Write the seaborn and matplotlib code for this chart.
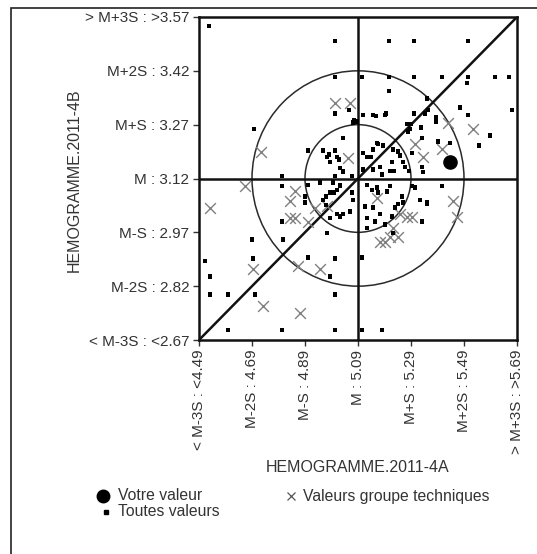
import numpy as np
import pandas as pd
import seaborn as sns
import matplotlib.pyplot as plt
from matplotlib.patches import Ellipse, Rectangle
from matplotlib.lines import Line2D

# moyennes / ecarts-types des deux echantillons
mean_a, sd_a = 5.09, 0.2
mean_b, sd_b = 3.12, 0.15

x_ticks = [4.49, 4.69, 4.89, 5.09, 5.29, 5.49, 5.69]
x_labels = ['< M-3S : <4.49', 'M-2S : 4.69', 'M-S : 4.89', 'M : 5.09',
            'M+S : 5.29', 'M+2S : 5.49', '> M+3S : >5.69']
y_ticks = [2.67, 2.82, 2.97, 3.12, 3.27, 3.42, 3.57]
y_labels = ['< M-3S : <2.67', 'M-2S : 2.82', 'M-S : 2.97', 'M : 3.12',
            'M+S : 3.27', 'M+2S : 3.42', '> M+3S : >3.57']

# toutes valeurs (A, B)
all_a = [4.528, 5.003, 5.003, 5.003, 5.075, 4.698, 5.033, 4.901, 4.973, 5.003,
         4.984, 5.011, 5.033, 4.803, 5.003, 5.067, 5.207, 5.301, 5.505, 5.105,
         5.207, 5.301, 5.407, 5.505, 5.501, 5.607, 5.660, 5.207, 5.350, 5.475,
         5.671, 5.384, 5.384, 5.505, 5.158, 5.196, 5.301, 5.588, 5.547, 5.392,
         5.437, 5.290, 5.328, 5.279, 5.332, 5.165, 5.184, 4.803, 4.803, 4.690,
         4.807, 4.513, 4.694, 4.901, 5.003, 4.984, 4.531, 4.531, 4.599, 4.701,
         5.003, 4.599, 4.803, 5.003, 5.407, 5.350, 5.332, 5.105, 5.105, 5.181,
         5.056, 5.086, 5.071, 4.958, 4.981, 5.018, 5.033, 5.147, 5.192, 5.343,
         5.354, 5.275, 5.286, 5.109, 5.162, 5.147, 5.222, 5.241, 5.249, 5.294,
         5.218, 5.260, 5.109, 5.124, 5.139, 5.173, 5.147, 5.211, 5.226, 5.267,
         5.282, 5.332, 5.335, 5.109, 5.181, 4.947, 4.996, 5.022, 4.901, 4.890,
         4.984, 5.000, 5.011, 5.067, 5.071, 4.958, 4.890, 4.984, 5.011, 5.022,
         5.033, 5.060, 4.973, 5.124, 5.143, 5.162, 5.165, 5.211, 5.199, 5.256,
         5.260, 5.294, 5.305, 5.324, 5.350, 5.116, 5.147, 5.241, 5.230, 5.173,
         5.124, 5.154, 5.218, 5.124, 5.192, 5.222, 4.968, 5.022, 4.969, 5.022]
all_b = [3.544, 3.502, 3.402, 3.301, 3.282, 3.259, 3.232, 3.198, 3.181, 3.198,
         3.165, 3.179, 3.137, 3.126, 3.126, 3.126, 3.502, 3.502, 3.502, 3.402,
         3.402, 3.402, 3.402, 3.402, 3.385, 3.402, 3.402, 3.363, 3.343, 3.318,
         3.312, 3.290, 3.279, 3.298, 3.293, 3.301, 3.301, 3.240, 3.212, 3.223,
         3.220, 3.271, 3.262, 3.251, 3.234, 3.215, 3.212, 3.100, 3.000, 2.950,
         2.950, 2.889, 2.897, 2.900, 2.897, 2.847, 2.847, 2.797, 2.797, 2.797,
         2.797, 2.699, 2.699, 2.699, 3.100, 3.050, 3.000, 2.900, 2.699, 2.699,
         3.310, 3.279, 3.276, 3.198, 3.187, 3.173, 3.142, 3.298, 3.298, 3.301,
         3.312, 3.271, 3.257, 3.298, 3.220, 3.201, 3.201, 3.195, 3.184, 3.192,
         3.167, 3.167, 3.192, 3.179, 3.181, 3.153, 3.145, 3.140, 3.140, 3.151,
         3.140, 3.151, 3.137, 3.145, 3.131, 3.109, 3.109, 3.103, 3.103, 3.070,
         3.081, 3.081, 3.087, 3.081, 3.061, 3.061, 3.053, 3.011, 3.020, 3.014,
         3.020, 3.028, 2.969, 3.103, 3.089, 3.095, 3.081, 3.098, 3.084, 3.070,
         3.053, 3.098, 3.095, 3.061, 3.053, 3.042, 3.039, 3.048, 3.039, 3.020,
         3.011, 3.000, 3.014, 2.981, 2.992, 2.969, 3.070, 3.098, 3.046, 3.150]

# valeurs groupe techniques
grp_a = [5.003, 5.060, 4.724, 5.052, 5.430, 5.524, 5.407, 5.335, 4.664, 4.852,
         4.833, 4.531, 4.833, 4.852, 4.901, 4.928, 4.694, 4.864, 4.947, 4.732,
         4.871, 5.449, 5.464, 5.173, 5.192, 5.211, 5.162, 5.249, 5.275, 5.294,
         5.222, 5.241, 5.305, 4.973]
grp_b = [3.329, 3.329, 3.195, 3.176, 3.276, 3.259, 3.201, 3.181, 3.098, 3.084,
         3.056, 3.039, 3.011, 3.011, 3.000, 3.039, 2.869, 2.875, 2.869, 2.766,
         2.744, 3.056, 3.014, 2.942, 2.944, 2.958, 3.067, 3.020, 3.014, 3.014,
         2.983, 2.956, 3.215, 3.042]

# votre valeur
lab_a, lab_b = 5.437, 3.167

df_all = pd.DataFrame({'A': all_a, 'B': all_b})
df_grp = pd.DataFrame({'A': grp_a, 'B': grp_b})

sns.set_style('white')
plt.rcParams['font.family'] = ['Liberation Sans', 'DejaVu Sans']

fig = plt.figure(figsize=(5.37, 5.54), dpi=100)
ax = fig.add_axes([199 / 537, 214 / 554, 318 / 537, 323 / 554])

# cercles 1S et 2S
for k in (1, 2):
    ax.add_patch(Ellipse((mean_a, mean_b), 2 * k * sd_a, 2 * k * sd_b,
                         fill=False, edgecolor='#2a2a2a', lw=1.1, zorder=1))
ax.axvline(mean_a, color='#111111', lw=1.8, zorder=1)
ax.axhline(mean_b, color='#111111', lw=1.8, zorder=1)
ax.plot([x_ticks[0], x_ticks[-1]], [y_ticks[0], y_ticks[-1]],
        color='#111111', lw=1.8, zorder=1)

sns.scatterplot(data=df_grp, x='A', y='B', marker='x', s=60, color='#808080',
                linewidth=1.0, ax=ax, zorder=2)
sns.scatterplot(data=df_all, x='A', y='B', marker='s', s=9, color='black',
                edgecolor='none', ax=ax, zorder=3)
ax.scatter([lab_a], [lab_b], s=90, color='black', zorder=4)

ax.set_xlim(x_ticks[0], x_ticks[-1])
ax.set_ylim(y_ticks[0], y_ticks[-1])
ax.set_xticks(x_ticks)
ax.set_xticklabels(x_labels, rotation=90, fontsize=11, color='#333333')
ax.set_yticks(y_ticks)
ax.set_yticklabels(y_labels, fontsize=11, color='#333333')
ax.tick_params(direction='out', length=4, width=1, color='#333333', pad=3,
               bottom=True, left=True)
for s in ax.spines.values():
    s.set_linewidth(1.8)
    s.set_color('#111111')

ax.set_xlabel('HEMOGRAMME.2011-4A', fontsize=11.5, color='#333333')
ax.xaxis.set_label_coords(0.5, -0.372)
ax.set_ylabel('HEMOGRAMME.2011-4B', fontsize=11.5, color='#333333')
ax.yaxis.set_label_coords(-0.37, 0.495)

# legende
def fx(px):
    return px / 537


def fy(py):
    return 1 - py / 554


fig.add_artist(Line2D([fx(103)], [fy(496)], marker='o', markersize=9,
                      color='black', transform=fig.transFigure))
fig.add_artist(Line2D([fx(106)], [fy(512)], marker='s', markersize=2.5,
                      color='black', transform=fig.transFigure))
fig.add_artist(Line2D([fx(291)], [fy(496)], marker='x', markersize=6,
                      color='#555555', mew=0.9, transform=fig.transFigure))
fig.text(fx(118), fy(496), 'Votre valeur', fontsize=11.3, va='center', color='#333333')
fig.text(fx(118), fy(512), 'Toutes valeurs', fontsize=11.3, va='center', color='#333333')
fig.text(fx(303), fy(496), 'Valeurs groupe techniques', fontsize=11.3, va='center',
         color='#333333')

# cadre exterieur
fig.add_artist(Rectangle((fx(11), -0.02), 1.2, fy(8) + 0.02, fill=False,
                         edgecolor='#222222', lw=1.2, transform=fig.transFigure))

fig.savefig('out.png', dpi=100)
